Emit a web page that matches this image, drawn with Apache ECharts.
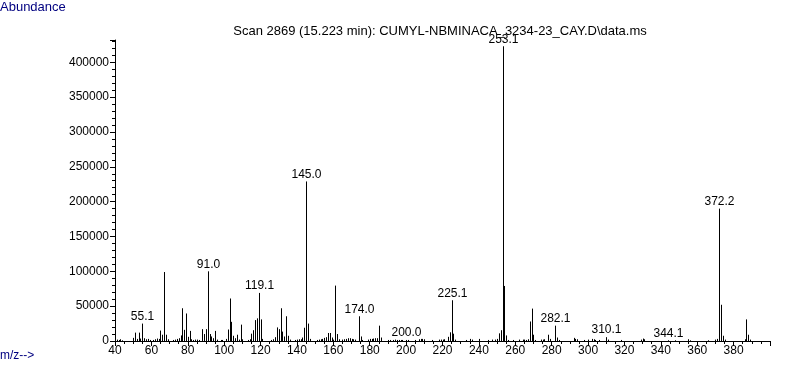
<!DOCTYPE html>
<html>
<head>
<meta charset="utf-8">
<script src="https://cdn.jsdelivr.net/npm/echarts@6/dist/echarts.min.js"></script>
<style>
html,body{margin:0;padding:0;background:#fff;}
#chart{width:787px;height:367px;}
</style>
</head>
<body>
<div id="chart"></div>
<script>
// m/z values of the peaks
const mz = [41,42,43,44,50,51,52,53,54,55.1,56,57,58,59,61,62,63,64,65,66,67,68,69,72,73,74,75,76,77,78,79,80,81,82,83,84,85,86,
  88,89,90,91.0,92,93,94,95,96,98,99,101,102,103,104,105,106,107,108,109,110,113,114,115,116,117,118,119.1,120,121,
  126,127,128,129,130,131,132,133,134,135,136,139,140,141,142,143,144,145.0,146,147,151,152,153,154,155,156,157,158,159,160,
  161,162,163,165,166,167,168,169,170,171,172,174.0,175,176,179,180,181,182,183,184,185,186,190,191,193,194,195,196,197,198,
  200.0,201,205,207,208,209,210,214,218,219,220,221,223,224,225.1,226,227,233,235,236,240,245,247,249,250,251,252,253.1,254,255,256,
  259,262,264,265,266,267,268,269,270,271,274,275,276,278,279,282.1,283,284,292,293,294,298,300,302,303,304,306,310.1,311,318,
  329,330,331,344.1,348,355,356,366,370,371,372.2,373,374,375,386,387,388,389];
// abundance of each peak
const abundance = [2000,1500,2500,1000,4500,12000,3000,12000,3500,25000,4000,2500,3000,1500,1500,2500,3500,3000,15000,9000,99000,9000,2500,1500,2000,3000,4000,8000,47000,16000,39500,6000,14500,2500,1500,2000,2000,1500,
  17000,10000,17000,100000,10000,6500,4000,14500,2000,1500,1500,3000,16500,61000,27500,7500,4000,9000,2000,23500,2500,1500,2500,10500,15500,30000,32500,69000,31000,3000,
  1500,2500,5500,19500,17000,47000,13500,6500,35500,7500,2000,1500,2000,2500,2500,5000,19000,229000,25000,3000,1500,2000,2500,3000,4500,5500,11500,11500,5000,2000,
  79500,10000,2500,2000,2500,3000,4000,4000,3000,2500,2000,35500,6500,1500,2000,3000,3000,3500,4000,4000,22000,5000,1500,1500,1500,2000,1500,1500,1500,1500,
  1500,1500,1500,2500,3000,3000,2500,1500,2000,2000,2000,2500,6000,12500,58500,10500,2000,1500,3000,2000,3000,1500,2000,2000,3000,11000,15500,423000,79000,8000,1500,
  1500,2000,2000,2000,1500,2500,28000,46500,9000,1500,2000,2000,2500,9000,3000,22000,5000,1500,4500,3000,2500,1500,2000,3000,2500,1500,1500,5500,2000,1500,
  2000,3500,2500,1000,1000,2500,1000,1000,2000,3000,190000,52000,7500,2000,2500,31000,9000,2000];
// peaks that carry an m/z label
const labelMz = [55.1,91.0,119.1,145.0,174.0,200.0,225.1,253.1,282.1,310.1,344.1,372.2];
const titleText = 'Scan 2869 (15.223 min): CUMYL-NBMINACA_3234-23_CAY.D\\data.ms';
const yLabel = 'Abundance';
const xLabel = 'm/z-->';

const FONT = 'Liberation Sans, Arial, sans-serif';
const peakData = mz.map((m, i) => [m, abundance[i]]);
const labelData = labelMz.map(m => [m, abundance[mz.indexOf(m)], m.toFixed(1)]);

const chart = echarts.init(document.getElementById('chart'), null, {renderer: 'canvas'});
chart.setOption({
  animation: false,
  backgroundColor: '#fff',
  grid: {left: 115, right: 17, top: 40, bottom: 26, containLabel: false},
  xAxis: {
    type: 'value', min: 40, max: 400, interval: 20,
    axisLine: {show: true, onZero: false, lineStyle: {color: '#000', width: 1}},
    axisTick: {show: true, length: 5, lineStyle: {color: '#000'}},
    minorTick: {show: true, splitNumber: 4, length: 3, lineStyle: {color: '#000'}},
    splitLine: {show: false},
    axisLabel: {color: '#000', fontFamily: FONT, fontSize: 12, margin: 4, showMaxLabel: false}
  },
  yAxis: {
    type: 'value', min: 0, max: 432000, interval: 50000,
    axisLine: {show: true, lineStyle: {color: '#000', width: 1}},
    axisTick: {show: true, length: 5, lineStyle: {color: '#000'}},
    minorTick: {show: true, splitNumber: 5, length: 3, lineStyle: {color: '#000'}},
    splitLine: {show: false},
    axisLabel: {color: '#000', fontFamily: FONT, fontSize: 12, margin: 6,
      formatter: v => (v % 50000 === 0 ? String(v) : '')}
  },
  graphic: [
    {type: 'text', left: 0, top: 1, style: {text: yLabel, fill: '#000080', font: '13px ' + FONT}},
    {type: 'text', left: 0, top: 350, style: {text: xLabel, fill: '#000080', font: '12px ' + FONT}},
    {type: 'text', z: 1, x: 440, y: 31, style: {text: titleText, fill: '#000', font: '13px ' + FONT, textAlign: 'center', textVerticalAlign: 'middle'}}
  ],
  series: [
    {
      type: 'custom', data: peakData, clip: false,
      renderItem: function (params, api) {
        const x = api.value(0), v = api.value(1);
        const p0 = api.coord([x, 0]);
        const p1 = api.coord([x, v]);
        const px = Math.round(p0[0]) + 0.5;
        return {type: 'line', shape: {x1: px, y1: p0[1], x2: px, y2: p1[1]},
          style: {stroke: '#000', lineWidth: 1}};
      }
    },
    {
      type: 'custom', data: labelData, z: 5, clip: false,
      renderItem: function (params, api) {
        const x = api.value(0), v = api.value(1);
        const p = api.coord([x, v]);
        return {type: 'text', z2: 10, style: {text: labelData[params.dataIndex][2], x: Math.round(p[0]) + 0.5, y: p[1] - 1,
          textAlign: 'center', textVerticalAlign: 'bottom', fill: '#000', font: '12px ' + FONT}};
      }
    }
  ]
});
</script>
</body>
</html>
